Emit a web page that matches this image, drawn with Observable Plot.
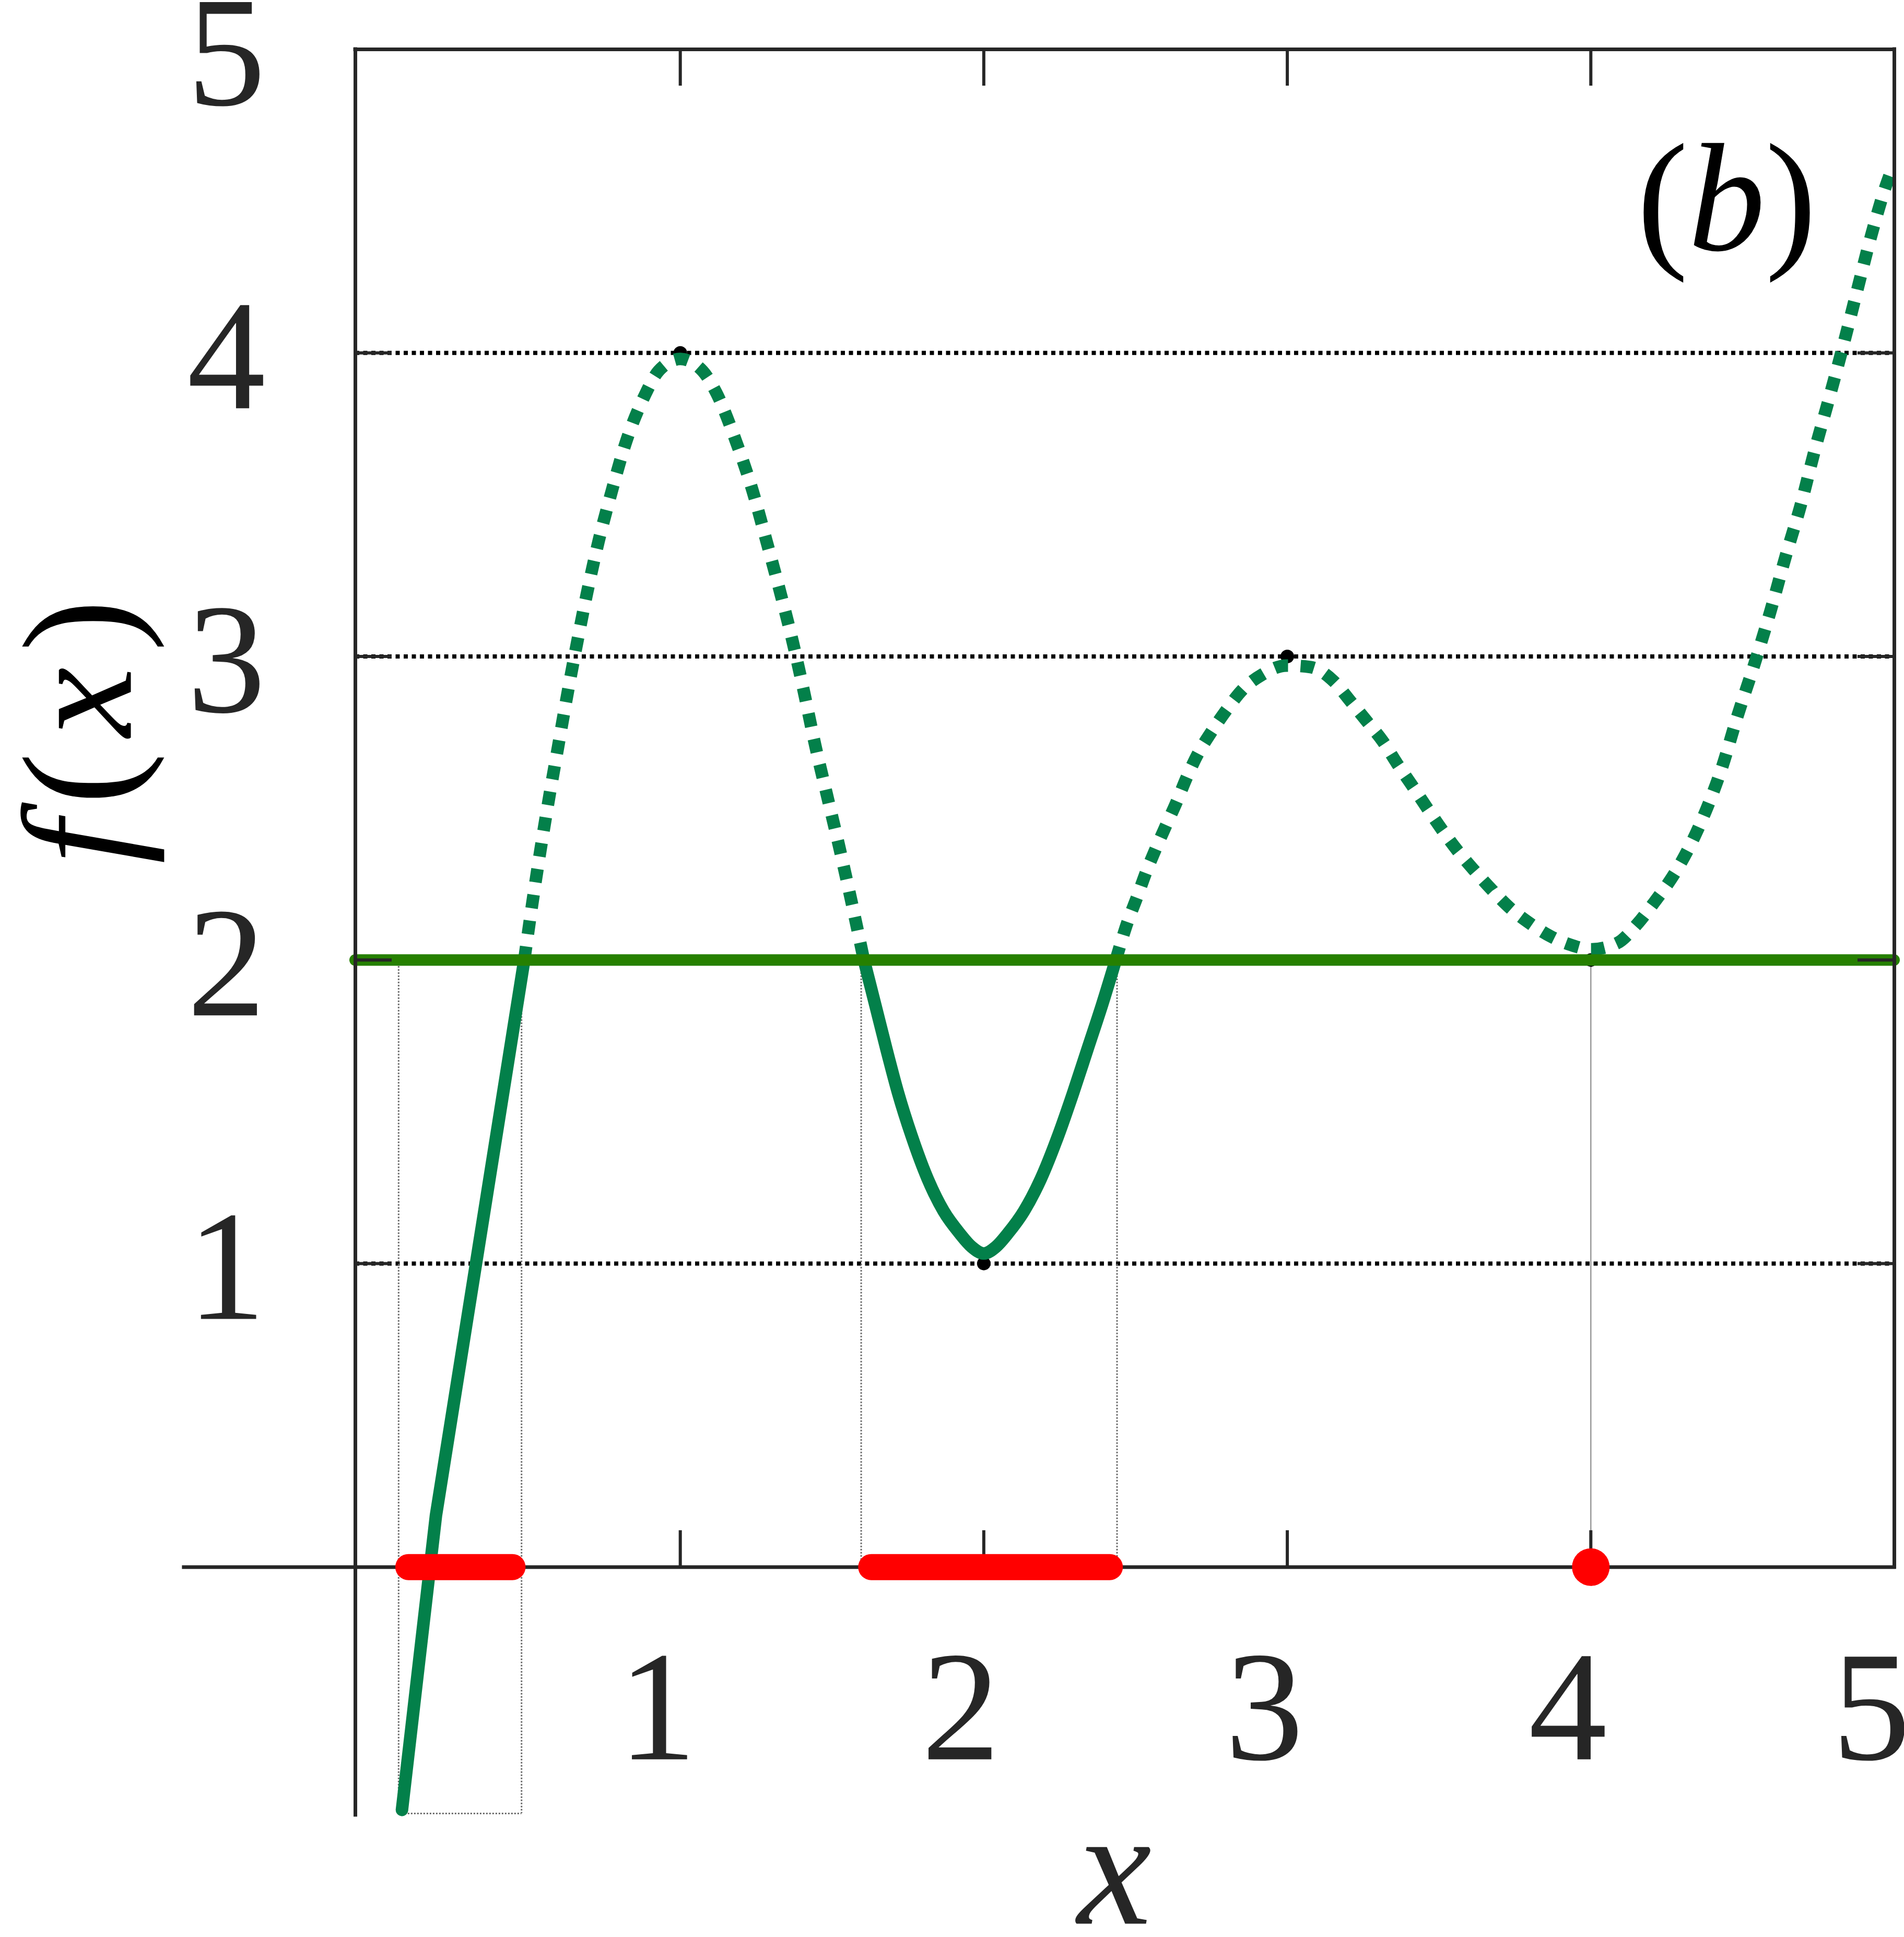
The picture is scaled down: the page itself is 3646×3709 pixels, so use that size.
<!DOCTYPE html>
<html>
<head>
<meta charset="utf-8">
<script src="https://cdn.jsdelivr.net/npm/d3@7"></script>
<script src="https://cdn.jsdelivr.net/npm/@observablehq/plot@0.6"></script>
<style>
html, body { margin: 0; padding: 0; background: #ffffff; }
svg { display: block; }
</style>
</head>
<body>
<div id="chart"></div>
<script>
// ---------- data ----------
const curveX = [0.083, 0.195, 0.486,
  0.513, 0.539, 0.567, 0.597, 0.627, 0.659, 0.693, 0.731, 0.773, 0.819,
  0.883, 0.928, 1.0, 1.074, 1.118, 1.183, 1.237, 1.284, 1.327, 1.370,
  1.406, 1.444, 1.484, 1.522, 1.558, 1.605,
  1.643, 1.679, 1.717, 1.762, 1.815, 1.868, 1.920, 1.960, 2.0,
  2.040, 2.080, 2.132, 2.188, 2.245, 2.295, 2.342, 2.389, 2.435,
  2.472, 2.506, 2.535, 2.566, 2.599, 2.635, 2.668, 2.706, 2.749, 2.797,
  2.852, 2.917, 2.997, 3.076, 3.151, 3.210, 3.263, 3.315, 3.363, 3.411,
  3.461, 3.509, 3.561, 3.616, 3.675, 3.735, 3.800, 3.873, 3.933, 4.0,
  4.086, 4.15, 4.206, 4.291, 4.37, 4.434, 4.482, 4.539, 4.592, 4.642,
  4.692, 4.738, 4.785, 4.833, 4.876, 4.922, 4.972, 4.99];
const curveY = [-0.80, 0.17, 2.0,
  2.19, 2.36, 2.53, 2.70, 2.87, 3.04, 3.21, 3.38, 3.54, 3.70,
  3.86, 3.94, 3.98, 3.94, 3.87, 3.71, 3.55, 3.38, 3.22, 3.05,
  2.89, 2.71, 2.54, 2.38, 2.22, 2.0,
  1.85, 1.707, 1.564, 1.421, 1.279, 1.172, 1.10, 1.055, 1.033,
  1.055, 1.10, 1.172, 1.279, 1.421, 1.564, 1.707, 1.85, 2.0,
  2.12, 2.21, 2.29, 2.365, 2.44, 2.52, 2.60, 2.68, 2.75, 2.82,
  2.89, 2.94, 2.97, 2.965, 2.92, 2.85, 2.785, 2.72, 2.645, 2.575,
  2.50, 2.43, 2.36, 2.295, 2.23, 2.17, 2.12, 2.075, 2.05, 2.035,
  2.055, 2.115, 2.186, 2.31, 2.47, 2.64, 2.80, 2.975, 3.15, 3.33,
  3.50, 3.68, 3.85, 4.03, 4.20, 4.38, 4.55, 4.6];

const levelY = 2;                       // horizontal level line
const extremaX = [1, 2, 3, 4];          // black markers
const extremaY = [4, 1, 3, 2];
const intervalStart = [0.105, 1.63];    // red solution intervals on the x axis
const intervalEnd = [0.448, 2.416];
const isolatedX = [4];                  // red isolated solution point
const boxX = [0.072, 0.477];            // thin dotted box below first interval
const boxBottom = -0.812;
const guideX = [1.596, 2.439];          // thin dotted guides of second interval
const xTicks = [1, 2, 3, 4];
const yTicks = [1, 2, 3, 4];
const xLabelValues = [1, 2, 3, 4, 5];
const xTickLabels = ["1", "2", "3", "4", "5"];
const yLabelValues = [1, 2, 3, 4, 5];
const yTickLabels = ["1", "2", "3", "4", "5"];
const xDomain = [-0.0705, 5];
const yDomain = [-0.817, 5];
const axisLineStart = -0.635;

// ---------- layout / style ----------
const W = 3646, H = 3709;
const mL = 680, mR = 19, mT = 94, mB = 234;
const kx = (W - mL - mR) / (xDomain[1] - xDomain[0]);
const ky = (H - mT - mB) / (yDomain[1] - yDomain[0]);
const tickPx = 70;
const axisColor = "#262626";
const curveColor = "#03804a";
const levelColor = "#268000";
const serif = "'Liberation Serif', 'Times New Roman', serif";

// curve points, split into runs at the crossings of the level line
const pts = curveX.map((x, i) => ({x, y: curveY[i]}));
const runs = [];
let cur = [];
pts.forEach((p, i) => {
  cur.push(p);
  if (p.y === levelY && i > 0 && i < pts.length - 1) { runs.push(cur); cur = [p]; }
});
runs.push(cur);
const solidRuns = [], dottedRuns = [];
runs.forEach((r, k) => {
  const above = d3.max(r, d => d.y) > levelY;
  r.forEach(p => (above ? dottedRuns : solidRuns).push({...p, run: k}));
});
const solidFirst = solidRuns.filter(d => d.run === 0);
const solidRest = solidRuns.filter(d => d.run !== 0);

const extrema = extremaX.map((x, i) => ({x, y: extremaY[i]}));
const intervals = intervalStart.map((a, i) => ({a, b: intervalEnd[i]}));
const xLab = xLabelValues.map((v, i) => ({v, t: xTickLabels[i]}));
const yLab = yLabelValues.map((v, i) => ({v, t: yTickLabels[i]}));

const guideStyle = {stroke: "#6a6a6a", strokeWidth: 3, strokeDasharray: "3,3"};
const frameStyle = {stroke: axisColor, strokeWidth: 7, strokeLinecap: "square"};
const tickStyle = {stroke: axisColor, strokeWidth: 6};
const solidStyle = {x: "x", y: "y", z: "run", stroke: curveColor, strokeWidth: 24, strokeLinejoin: "round"};

const plot = Plot.plot({
  width: W, height: H,
  marginLeft: mL, marginRight: mR, marginTop: mT, marginBottom: mB,
  x: {domain: xDomain, axis: null},
  y: {domain: yDomain, axis: null},
  style: {background: "#ffffff"},
  marks: [
    // dotted grid
    Plot.ruleY(yTicks, {x1: xDomain[0], x2: xDomain[1], stroke: "#000", strokeWidth: 8, strokeDasharray: "8,7.5"}),
    // guides
    Plot.ruleX(boxX, {y1: levelY, y2: boxBottom, ...guideStyle}),
    Plot.ruleY([boxBottom], {x1: boxX[0], x2: boxX[1], ...guideStyle}),
    Plot.ruleX(guideX, {y1: levelY, y2: 0, ...guideStyle}),
    Plot.ruleX(isolatedX, {y1: levelY, y2: 0, stroke: "#999999", strokeWidth: 2.5}),
    // extrema
    Plot.dot(extrema, {x: "x", y: "y", r: 13, fill: "#000", stroke: null}),
    // curve
    Plot.line(solidFirst, {...solidStyle, curve: "linear"}),
    Plot.line(solidRest, {...solidStyle, curve: "monotone-x"}),
    Plot.line(dottedRuns, {x: "x", y: "y", z: "run", stroke: curveColor, strokeWidth: 24, curve: "monotone-x", strokeDasharray: "26,24", strokeLinecap: "butt"}),
    // level line
    Plot.ruleY([levelY], {x1: xDomain[0], x2: xDomain[1], stroke: levelColor, strokeWidth: 22, strokeLinecap: "round"}),
    // axes & frame
    Plot.ruleY([0], {x1: axisLineStart, x2: xDomain[1], ...frameStyle}),
    Plot.ruleY([yDomain[1]], {x1: xDomain[0], x2: xDomain[1], ...frameStyle}),
    Plot.ruleX([xDomain[0]], {y1: yDomain[0], y2: yDomain[1], ...frameStyle}),
    Plot.ruleX([xDomain[1]], {y1: 0, y2: yDomain[1], ...frameStyle}),
    Plot.ruleX(xTicks, {y1: yDomain[1], y2: yDomain[1] - tickPx / ky, ...tickStyle}),
    Plot.ruleX(xTicks, {y1: 0, y2: tickPx / ky, ...tickStyle}),
    Plot.ruleY(yTicks, {x1: xDomain[0], x2: xDomain[0] + tickPx / kx, ...tickStyle}),
    Plot.ruleY(yTicks, {x1: xDomain[1] - tickPx / kx, x2: xDomain[1], ...tickStyle}),
    // solution set
    Plot.ruleY(intervals, {y: 0, x1: "a", x2: "b", stroke: "#ff0000", strokeWidth: 50, strokeLinecap: "round"}),
    Plot.dot(isolatedX, {x: d => d, y: 0, r: 36, fill: "#ff0000", stroke: null}),
    // tick labels
    Plot.text(yLab, {x: xDomain[0], y: "v", text: "t", dx: -247, dy: 106, textAnchor: "middle", lineAnchor: "bottom", fontSize: 300, fontFamily: serif, fill: axisColor}),
    Plot.text(xLab, {x: "v", y: 0, text: "t", dx: -44, dy: 368, textAnchor: "middle", lineAnchor: "bottom", fontSize: 300, fontFamily: serif, fill: axisColor}),
    // axis labels & panel label
    Plot.text(["x"], {frameAnchor: "bottom", dx: -20, dy: 208, textAnchor: "middle", lineAnchor: "bottom", fontSize: 320, fontFamily: serif, fontStyle: "italic", fill: axisColor}),
    Plot.text(["f(x)"], {frameAnchor: "left", rotate: -90, dx: -430, dy: -399, textAnchor: "middle", lineAnchor: "bottom", fontSize: 300, fontFamily: serif, fill: "#000"}),
    Plot.text(["(b)"], {frameAnchor: "top-right", dx: -321, dy: 384, textAnchor: "middle", lineAnchor: "bottom", fontSize: 295, fontFamily: serif, fill: "#000"})
  ]
});

// math-style text: italic letters, upright parentheses
function mathify(svg, str, parts, spacing) {
  d3.select(svg).selectAll("text").filter(function() { return this.textContent === str; }).each(function() {
    const t = d3.select(this);
    t.text(null);
    if (spacing) t.attr("letter-spacing", spacing);
    parts.forEach(([s, it]) => t.append("tspan").attr("font-style", it ? "italic" : "normal").text(s));
  });
}
mathify(plot, "f(x)", [["f", true], ["(", false], ["x", true], [")", false]], 30);
mathify(plot, "(b)", [["(", false], ["b", true], [")", false]], 0);

document.getElementById("chart").append(plot);
</script>
</body>
</html>
